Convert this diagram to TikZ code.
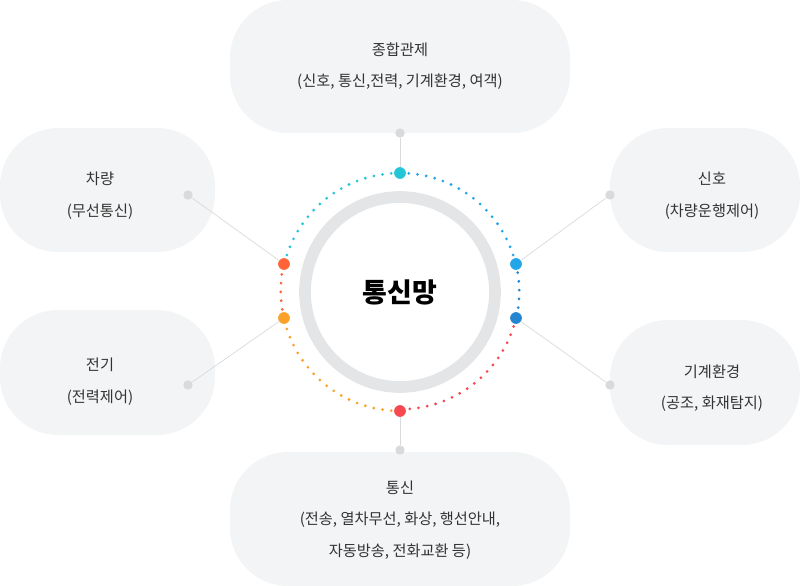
\documentclass[tikz,border=0pt]{standalone}
\usepackage{fontspec}
\setmainfont{Noto Sans CJK KR}
\definecolor{boxgray}{HTML}{F3F4F5}
\definecolor{ringgray}{HTML}{E4E5E7}
\definecolor{linegray}{HTML}{D9DADC}
\definecolor{ccyan}{HTML}{22C6D6}
\definecolor{clblue}{HTML}{22A6EA}
\definecolor{cdblue}{HTML}{2585D0}
\definecolor{cred}{HTML}{F7474F}
\definecolor{corange}{HTML}{FBA12A}
\definecolor{cred2}{HTML}{FF6338}
\tikzset{
  boxbg/.style={fill=boxgray, rounded corners=58*0.03cm},
  label/.style={align=center, font=\fontsize{13}{27}\selectfont, text=black!80},
  dots/.style={line width=2.6pt, line cap=round, dash pattern=on 0pt off 7.5pt},
  hub/.style={circle, inner sep=0pt, minimum size=10pt},
  endpt/.style={circle, fill=linegray, inner sep=0pt, minimum size=8pt},
  wire/.style={draw=linegray, line width=0.6pt}
}
\begin{document}
\begin{tikzpicture}[x=0.03cm, y=-0.03cm]
  \useasboundingbox (0,0) rectangle (800,586);
  \clip (0,0) rectangle (800,586);
  % boxes
  \fill[boxbg] (230,0) rectangle (570,133);
  \fill[boxbg] (0,128) rectangle (215,252);
  \fill[boxbg] (0,310) rectangle (215,435);
  \fill[boxbg] (610,128) rectangle (800,252);
  \fill[boxbg] (610,320) rectangle (800,445);
  \fill[boxbg] (230,452) rectangle (570,586);
  % texts
  \node[label] (top) at (400,66) {종합관제\\(신호, 통신,전력, 기계환경, 여객)};
  \node[label] (car) at (100,196) {차량\\(무선통신)};
  \node[label] (pow) at (100,382) {전기\\(전력제어)};
  \node[label] (sig) at (712,196) {신호\\(차량운행제어)};
  \node[label] (env) at (712,388) {기계환경\\(공조, 화재탐지)};
  \node[label] (com) at (400,520) {통신\\(전송, 열차무선, 화상, 행선안내,\\자동방송, 전화교환 등)};
  % ring
  \draw[ringgray, line width=10pt] (400,292) circle (95);
  \node[font=\fontsize{23}{26}\selectfont\bfseries] (net) at (400,292) {통신망};
  % dotted arcs
  \draw[dots, ccyan] (400,173) arc[start angle=-90, end angle=-166.5, radius=119];
  \draw[dots, clblue] (400,173) arc[start angle=-90, end angle=-13.5, radius=119];
  \draw[dots, cdblue] (516,264) arc[start angle=-13.5, end angle=13.5, radius=119];
  \draw[dots, cred] (516,318) arc[start angle=13.5, end angle=90, radius=119];
  \draw[dots, corange] (400,411) arc[start angle=90, end angle=166.5, radius=119];
  \draw[dots, cred2] (284,318) arc[start angle=166.5, end angle=193.5, radius=119];
  % end points
  \node[endpt] (etop) at (400,133) {};
  \node[endpt] (ecar) at (188,195) {};
  \node[endpt] (epow) at (188,385) {};
  \node[endpt] (esig) at (610,195) {};
  \node[endpt] (eenv) at (610,385) {};
  \node[endpt] (ecom) at (400,450) {};
  % hubs
  \node[hub, fill=ccyan] (htop) at (400,173) {};
  \node[hub, fill=cred2] (hcar) at (284,264) {};
  \node[hub, fill=corange] (hpow) at (284,318) {};
  \node[hub, fill=clblue] (hsig) at (516,264) {};
  \node[hub, fill=cdblue] (henv) at (516,318) {};
  \node[hub, fill=cred] (hcom) at (400,411) {};
  % wires
  \foreach \a/\b in {etop/htop, ecar/hcar, epow/hpow, esig/hsig, eenv/henv, ecom/hcom}
    \draw[wire] (\a) -- (\b);
\end{tikzpicture}
\end{document}
